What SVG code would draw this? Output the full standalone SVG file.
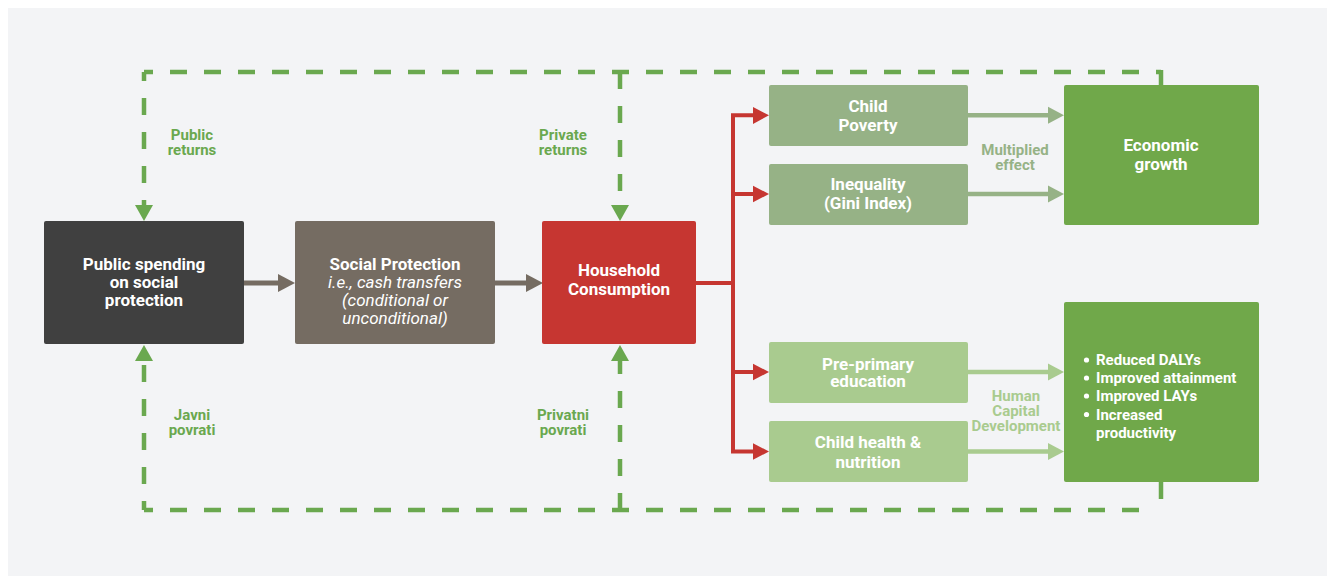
<svg xmlns="http://www.w3.org/2000/svg" width="1327" height="576" viewBox="0 0 1327 576">
<style>
text{font-family:Roboto,"Liberation Sans",sans-serif;font-weight:bold;text-anchor:middle}
.bt{font-size:17px;fill:#ffffff}
.it{font-style:italic;font-weight:normal}
.lbl{font-size:15px;fill:#6aa84f}
.lg1{fill:#96b286}
.lg2{fill:#a9cb8f}
.bl{font-size:15px;fill:#ffffff;text-anchor:start}
.dash{fill:none;stroke:#6aa84f;stroke-width:4.5;stroke-dasharray:17 17}
.sol{fill:none;stroke:#6aa84f;stroke-width:4.5}
.gr{fill:#6aa84f}
</style>
<rect x="0" y="0" width="1327" height="576" fill="#ffffff"/>
<rect x="8" y="8" width="1319" height="568" fill="#f3f4f6"/>
<g id="connectors">
  <path class="dash" d="M144,72 H1161" stroke-dashoffset="8"/>
  <path class="sol" d="M1161,70 V85"/>
  <path class="dash" d="M144,72 V205" stroke-dashoffset="8"/>
  <path class="dash" d="M620,72 V205"/>
  <polygon class="gr" points="135,205 153,205 144,221"/>
  <polygon class="gr" points="611,205 629,205 620,221"/>
  <path class="dash" d="M144,510 H1155" stroke-dashoffset="8"/>
  <path class="dash" d="M144,510 V361" stroke-dashoffset="8"/>
  <path class="dash" d="M620,510 V361"/>
  <polygon class="gr" points="135,361 153,361 144,345"/>
  <polygon class="gr" points="611,361 629,361 620,345"/>
  <path class="sol" d="M1161,482 V499"/>
  <line x1="244" y1="283" x2="280" y2="283" stroke="#756c62" stroke-width="5"/>
  <polygon points="278,274 295,283 278,292" fill="#756c62"/>
  <line x1="495" y1="283" x2="528" y2="283" stroke="#756c62" stroke-width="5"/>
  <polygon points="526,274 543,283 526,292" fill="#756c62"/>
  <path d="M696,283 H733 M733,113.3 V453.5 M731,115.3 H756 M731,194 H756 M731,372 H756 M731,451.5 H756" fill="none" stroke="#c63631" stroke-width="4"/>
  <polygon points="753,107 769,115.3 753,124" fill="#c63631"/>
  <polygon points="753,185.7 769,194 753,202.3" fill="#c63631"/>
  <polygon points="753,363.7 769,372 753,380.3" fill="#c63631"/>
  <polygon points="753,443.2 769,451.5 753,459.8" fill="#c63631"/>
  <path d="M968,115.3 H1050 M968,194 H1050" stroke="#96b286" stroke-width="4.5" fill="none"/>
  <polygon points="1048,106.8 1064,115.3 1048,123.8" fill="#96b286"/>
  <polygon points="1048,185.5 1064,194 1048,202.5" fill="#96b286"/>
  <path d="M968,372 H1050 M968,451.5 H1050" stroke="#a9cb8f" stroke-width="4.5" fill="none"/>
  <polygon points="1048,363.5 1064,372 1048,380.5" fill="#a9cb8f"/>
  <polygon points="1048,443 1064,451.5 1048,460" fill="#a9cb8f"/>
  <text class="lbl" x="192" y="140">Public</text>
  <text class="lbl" x="192" y="155">returns</text>
  <text class="lbl" x="563" y="140">Private</text>
  <text class="lbl" x="563" y="155">returns</text>
  <text class="lbl" x="192" y="420">Javni</text>
  <text class="lbl" x="192" y="435">povrati</text>
  <text class="lbl" x="563" y="420">Privatni</text>
  <text class="lbl" x="563" y="435">povrati</text>
  <text class="lbl lg1" x="1015" y="155">Multiplied</text>
  <text class="lbl lg1" x="1015" y="170">effect</text>
  <text class="lbl lg2" x="1016" y="401">Human</text>
  <text class="lbl lg2" x="1016" y="416">Capital</text>
  <text class="lbl lg2" x="1016" y="431">Development</text>
</g>
<g id="public-spending">
  <rect x="44" y="221" width="200" height="123" rx="2" fill="#404040"/>
  <text class="bt" x="144" y="270">Public spending</text>
  <text class="bt" x="144" y="288">on social</text>
  <text class="bt" x="144" y="306">protection</text>
</g>
<g id="social-protection">
  <rect x="295" y="221" width="200" height="123" rx="2" fill="#756c62"/>
  <text class="bt" x="395" y="269.5">Social Protection</text>
  <text class="bt it" x="395" y="287.5">i.e., cash transfers</text>
  <text class="bt it" x="395" y="305.5">(conditional or</text>
  <text class="bt it" x="395" y="323.5">unconditional)</text>
</g>
<g id="household">
  <rect x="542" y="221" width="154" height="123" rx="2" fill="#c63631"/>
  <text class="bt" x="619" y="276">Household</text>
  <text class="bt" x="619" y="295">Consumption</text>
</g>
<g id="child-poverty">
  <rect x="769" y="85" width="199" height="61" rx="2" fill="#96b286"/>
  <text class="bt" x="868" y="112">Child</text>
  <text class="bt" x="868" y="131">Poverty</text>
</g>
<g id="inequality">
  <rect x="769" y="164" width="199" height="61" rx="2" fill="#96b286"/>
  <text class="bt" x="868" y="189.5">Inequality</text>
  <text class="bt" x="868" y="208.5">(Gini Index)</text>
</g>
<g id="economic-growth">
  <rect x="1064" y="85" width="195" height="140" rx="2" fill="#70a84a"/>
  <text class="bt" x="1161" y="151">Economic</text>
  <text class="bt" x="1161" y="170">growth</text>
</g>
<g id="pre-primary">
  <rect x="769" y="342" width="199" height="61" rx="2" fill="#a9cb8f"/>
  <text class="bt" x="868" y="369.5">Pre-primary</text>
  <text class="bt" x="868" y="387">education</text>
</g>
<g id="child-health">
  <rect x="769" y="421" width="199" height="61" rx="2" fill="#a9cb8f"/>
  <text class="bt" x="868" y="448">Child health &amp;</text>
  <text class="bt" x="868" y="467.5">nutrition</text>
</g>
<g id="outcomes">
  <rect x="1064" y="302" width="195" height="180" rx="2" fill="#70a84a"/>
  <g fill="#ffffff">
    <circle cx="1086.5" cy="360" r="2.6"/>
    <circle cx="1086.5" cy="378" r="2.6"/>
    <circle cx="1086.5" cy="396" r="2.6"/>
    <circle cx="1086.5" cy="414.5" r="2.6"/>
  </g>
  <text class="bl" x="1096" y="365">Reduced DALYs</text>
  <text class="bl" x="1096" y="383">Improved attainment</text>
  <text class="bl" x="1096" y="401">Improved LAYs</text>
  <text class="bl" x="1096" y="419.5">Increased</text>
  <text class="bl" x="1096" y="437.5">productivity</text>
</g>
</svg>
